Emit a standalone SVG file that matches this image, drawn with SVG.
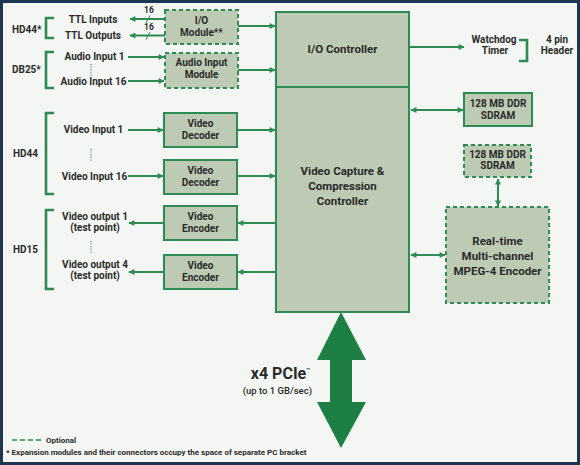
<svg xmlns="http://www.w3.org/2000/svg" width="580" height="465" viewBox="0 0 580 465">
<defs>
<marker id="ah" viewBox="0 0 10 10" refX="9" refY="5" markerWidth="8" markerHeight="6" markerUnits="userSpaceOnUse" orient="auto-start-reverse"><path d="M0,0 L10,5 L0,10 z" fill="#2f8a55"/></marker>
<style>
.bg{fill:#f3f6f3;stroke:#1d3550;stroke-width:3}
.box{fill:#bdcbb4;stroke:#2f8a55;stroke-width:2}
.opt{fill:#bdcbb4;stroke:#2f8a55;stroke-width:2;stroke-dasharray:4 3}
.ln{fill:none;stroke:#2f8a55;stroke-width:2}
.br{fill:none;stroke:#2f8a55;stroke-width:2.6}
.dot{fill:none;stroke:#2f8a55;stroke-width:1.3;stroke-dasharray:1 1.6}
text{font-family:Roboto,"Liberation Sans",sans-serif;font-weight:bold;fill:#2a2a2a;font-size:10px}
.c{text-anchor:middle}
.big{font-size:11.5px}
.s16{font-size:8.5px}
.pcie{font-size:16px;text-anchor:end}
.tm{font-size:6px}
.sub{font-size:9.5px;text-anchor:end;font-weight:500}
.note{font-size:8px}
</style>
</defs>
<rect class="bg" x="1.5" y="1.5" width="577" height="462"/>

<g id="connectors">
<line class="ln" x1="165" y1="19" x2="130" y2="19" marker-end="url(#ah)"/>
<line class="ln" x1="165" y1="35.5" x2="130" y2="35.5" marker-end="url(#ah)"/>
<line x1="146" y1="23" x2="150" y2="15.5" stroke="#2f8a55" stroke-width="1"/>
<line x1="146" y1="39.5" x2="150" y2="32" stroke="#2f8a55" stroke-width="1"/>
<line class="ln" x1="238" y1="26" x2="275" y2="26" marker-end="url(#ah)"/>
<line class="ln" x1="128" y1="57" x2="164" y2="57" marker-end="url(#ah)"/>
<line class="ln" x1="128" y1="81" x2="164" y2="81" marker-end="url(#ah)"/>
<line class="ln" x1="238" y1="70" x2="275" y2="70" marker-end="url(#ah)"/>
<line class="ln" x1="128" y1="130" x2="163" y2="130" marker-end="url(#ah)"/>
<line class="ln" x1="128" y1="176" x2="163" y2="176" marker-end="url(#ah)"/>
<line class="ln" x1="237" y1="130" x2="275" y2="130" stroke-width="3" marker-end="url(#ah)"/>
<line class="ln" x1="237" y1="176" x2="275" y2="176" marker-end="url(#ah)"/>
<line class="ln" x1="164" y1="223" x2="129" y2="223" marker-end="url(#ah)"/>
<line class="ln" x1="164" y1="272" x2="129" y2="272" marker-end="url(#ah)"/>
<line class="ln" x1="276" y1="223" x2="238" y2="223" stroke-width="3" marker-end="url(#ah)"/>
<line class="ln" x1="276" y1="272" x2="238" y2="272" marker-end="url(#ah)"/>
<line class="ln" x1="409" y1="47" x2="464" y2="47" marker-end="url(#ah)"/>
<line class="ln" x1="411" y1="110" x2="463" y2="110" marker-start="url(#ah)" marker-end="url(#ah)"/>
<line class="ln" x1="498" y1="179" x2="498" y2="206" marker-start="url(#ah)" marker-end="url(#ah)"/>
<line class="ln" x1="411" y1="255" x2="445" y2="255" marker-start="url(#ah)" marker-end="url(#ah)"/>
<path d="M341,312 L366,360 L352,360 L352,402 L366,402 L341,448 L317,402 L330,402 L330,360 L317,360 z" fill="#1e7f45"/>
</g>

<g id="brackets">
<path class="br" d="M54,18 H46 V38 H54"/>
<path class="br" d="M54,52 H46 V88 H54"/>
<path class="br" d="M54,113 H46 V194 H54"/>
<path class="br" d="M54,210 H46 V289 H54"/>
<path class="br" d="M519,40 H527 V61 H519"/>
<line class="dot" x1="91" y1="64" x2="91" y2="77"/>
<line class="dot" x1="91" y1="149" x2="91" y2="161"/>
<line class="dot" x1="91" y1="241" x2="91" y2="254"/>
</g>

<g id="labels">
<text x="12" y="33">HD44*</text>
<text x="12" y="73">DB25*</text>
<text x="13" y="157">HD44</text>
<text x="13" y="253">HD15</text>
<text class="c" x="93" y="23">TTL Inputs</text>
<text class="c" x="93" y="39">TTL Outputs</text>
<text class="c s16" x="149" y="13">16</text>
<text class="c s16" x="149" y="29.5">16</text>
<text class="c" x="94.5" y="60">Audio Input 1</text>
<text class="c" x="93.5" y="85">Audio Input 16</text>
<text class="c" x="93.5" y="133">Video Input 1</text>
<text class="c" x="94.5" y="180">Video Input 16</text>
<text class="c" x="95" y="220">Video output 1</text>
<text class="c" x="95" y="231">(test point)</text>
<text class="c" x="95" y="268">Video output 4</text>
<text class="c" x="95" y="279">(test point)</text>
<text class="c" x="494" y="43">Watchdog</text>
<text class="c" x="495" y="54">Timer</text>
<text class="c" x="557" y="43">4 pin</text>
<text class="c" x="557" y="54">Header</text>
<text class="pcie" x="310" y="379">x4 PCIe<tspan class="tm" dy="-7">™</tspan></text>
<text class="sub" x="312" y="394">(up to 1 GB/sec)</text>
</g>

<g id="io-module">
<rect class="opt" x="165" y="10" width="73" height="34"/>
<text class="c" x="201.5" y="24">I/O</text>
<text class="c" x="201.5" y="36">Module**</text>
</g>
<g id="audio-module">
<rect class="opt" x="165" y="53" width="73" height="35"/>
<text class="c" x="201.5" y="66">Audio Input</text>
<text class="c" x="201.5" y="78">Module</text>
</g>
<g id="decoder1">
<rect class="box" x="164" y="113" width="73" height="34"/>
<text class="c" x="200.5" y="127">Video</text>
<text class="c" x="200.5" y="139">Decoder</text>
</g>
<g id="decoder2">
<rect class="box" x="164" y="160" width="73" height="34"/>
<text class="c" x="200.5" y="174">Video</text>
<text class="c" x="200.5" y="186">Decoder</text>
</g>
<g id="encoder1">
<rect class="box" x="164" y="206" width="73" height="34"/>
<text class="c" x="200.5" y="220">Video</text>
<text class="c" x="200.5" y="232">Encoder</text>
</g>
<g id="encoder2">
<rect class="box" x="164" y="255" width="73" height="34"/>
<text class="c" x="200.5" y="269">Video</text>
<text class="c" x="200.5" y="281">Encoder</text>
</g>
<g id="io-controller">
<rect class="box" x="276" y="12" width="133" height="75"/>
<text class="c big" x="342.5" y="53">I/O Controller</text>
</g>
<g id="video-capture">
<rect class="box" x="276" y="87" width="133" height="225"/>
<text class="c big" x="342.5" y="175">Video Capture &amp;</text>
<text class="c big" x="342.5" y="190">Compression</text>
<text class="c big" x="342.5" y="205">Controller</text>
</g>
<g id="sdram1">
<rect class="box" x="464" y="93" width="68" height="33"/>
<text class="c" x="498" y="107">128 MB DDR</text>
<text class="c" x="498" y="119">SDRAM</text>
</g>
<g id="sdram2">
<rect class="opt" x="464" y="145" width="67" height="32"/>
<text class="c" x="497.5" y="158">128 MB DDR</text>
<text class="c" x="497.5" y="169">SDRAM</text>
</g>
<g id="mpeg4">
<rect class="opt" x="446" y="207" width="103" height="96"/>
<text class="c big" x="497.5" y="245">Real-time</text>
<text class="c big" x="497.5" y="260">Multi-channel</text>
<text class="c big" x="497.5" y="275">MPEG-4 Encoder</text>
</g>
<g id="legend">
<line x1="12" y1="440" x2="44" y2="440" stroke="#2f8a55" stroke-width="1.3" stroke-dasharray="5 3"/>
<text class="note" x="46" y="443">Optional</text>
<text class="note" x="6" y="455">* Expansion modules and their connectors occupy the space of separate PC bracket</text>
</g>
</svg>
